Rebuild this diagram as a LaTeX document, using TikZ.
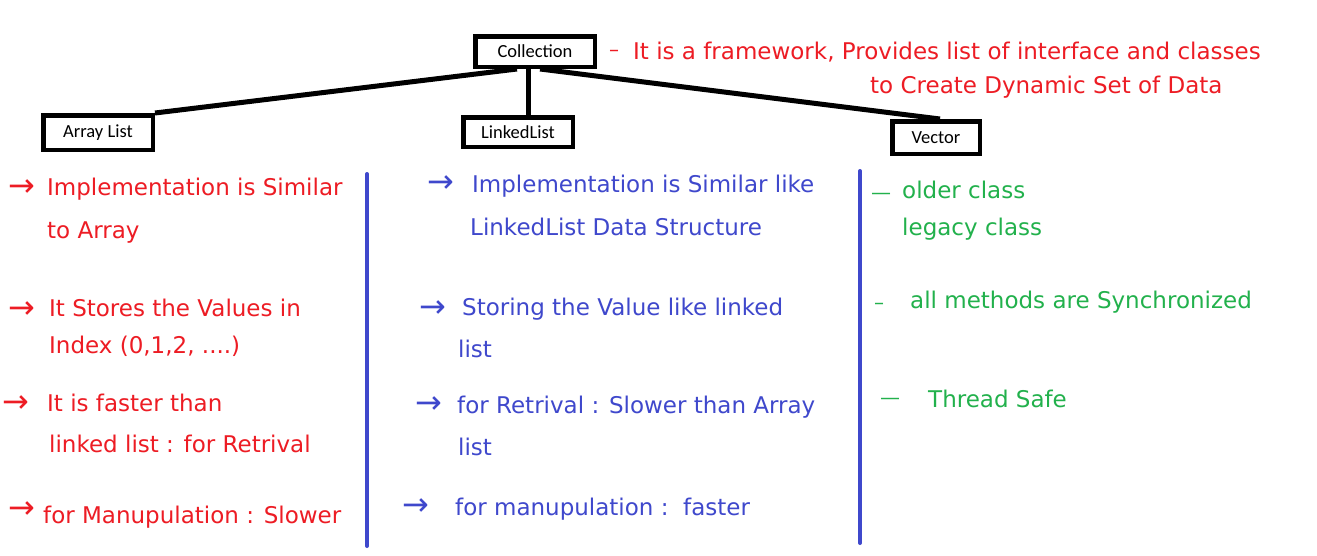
\documentclass[tikz,border=0pt]{standalone}
\usepackage{fontspec}
\setmainfont{DejaVu Sans}
\newfontfamily\boxfont{Carlito}
\definecolor{inkred}{HTML}{ED1C24}
\definecolor{inkblue}{HTML}{3F48CC}
\definecolor{inkgreen}{HTML}{22B14C}
\begin{document}
\begin{tikzpicture}[x=1pt,y=-1pt,
  box/.style={draw=black, line width=4.5pt, inner sep=0pt, fill=white,
    font=\boxfont\fontsize{18.5}{20}\selectfont},
  hand/.style={anchor=base west, inner sep=0pt, font=\fontsize{23}{26}\selectfont},
  bulletmark/.style={anchor=base, inner sep=0pt, font=\fontsize{32}{34}\selectfont},
  dashmark/.style={anchor=base, inner sep=0pt, font=\fontsize{20}{24}\selectfont},
  conn/.style={draw=black, line width=5pt},
  divider/.style={draw=inkblue, line width=4pt, line cap=round}]
\useasboundingbox (0,0) rectangle (1317,555);
\fill[white] (0,0) rectangle (1317,555);

% boxes
\node[box, minimum width=119.5pt, minimum height=30.5pt] (coll) at (535,51.5) {Collection};
\node[box, minimum width=109.5pt, minimum height=34.5pt] (al) at (98,132.5) {Array List};
\node[box, minimum width=109.5pt, minimum height=29.5pt] (ll) at (518,132) {LinkedList};
\node[box, minimum width=87.5pt, minimum height=32.5pt] (vec) at (936,137.5) {Vector};

% connectors
\draw[conn] ([xshift=-7pt]coll.south) -- ([xshift=10pt]ll.north);
\draw[conn] ([xshift=-18pt]coll.south) -- (al.north east);
\draw[conn] ([xshift=5pt]coll.south) -- ([xshift=4pt]vec.north);

% dividers
\draw[divider] (367,174) -- (367,546);
\draw[divider] (860,171) -- (860,543);

% top note
\begin{scope}[every node/.append style={text=inkred}]
\node[dashmark] (tdash) at (614,56) {–};
\node[hand] (t1) at (633,59) {It is a framework, Provides list of interface and classes};
\node[hand] (t2) at (870,93) {to Create Dynamic Set of Data};
\end{scope}

% left column (red)
\begin{scope}[every node/.append style={text=inkred}]
\node[bulletmark] (la1) at (22,196) {→};
\node[hand] (l1a) at (47,195) {Implementation is Similar};
\node[hand] (l1b) at (47,238) {to Array};
\node[bulletmark] (la2) at (22,318) {→};
\node[hand] (l2a) at (49,316) {It Stores the Values in};
\node[hand] (l2b) at (49,353) {Index (0,1,2, ....)};
\node[bulletmark] (la3) at (16,412) {→};
\node[hand] (l3a) at (47,411) {It is faster than};
\node[hand] (l3b) at (49,452) {linked list : for Retrival};
\node[bulletmark] (la4) at (22,518) {→};
\node[hand] (l4a) at (43,523) {for Manupulation : Slower};
\end{scope}

% middle column (blue)
\begin{scope}[every node/.append style={text=inkblue}]
\node[bulletmark] (ma1) at (441,192) {→};
\node[hand] (m1a) at (472,192) {Implementation is Similar like};
\node[hand] (m1b) at (470,235) {LinkedList Data Structure};
\node[bulletmark] (ma2) at (433,317) {→};
\node[hand] (m2a) at (462,315) {Storing the Value like linked};
\node[hand] (m2b) at (458,357) {list};
\node[bulletmark] (ma3) at (429,413) {→};
\node[hand] (m3a) at (457,413) {for Retrival : Slower than Array};
\node[hand] (m3b) at (458,455) {list};
\node[bulletmark] (ma4) at (416,515) {→};
\node[hand] (m4a) at (455,515) {for manupulation :\ \ faster};
\end{scope}

% right column (green)
\begin{scope}[every node/.append style={text=inkgreen}]
\node[dashmark] (ra1) at (881,199) {—};
\node[hand] (r1a) at (902,198) {older class};
\node[hand] (r1b) at (902,235) {legacy class};
\node[dashmark] (ra2) at (879,309) {–};
\node[hand] (r2a) at (910,308) {all methods are Synchronized};
\node[dashmark] (ra3) at (890,404) {—};
\node[hand] (r3a) at (928,407) {Thread Safe};
\end{scope}
\end{tikzpicture}
\end{document}
